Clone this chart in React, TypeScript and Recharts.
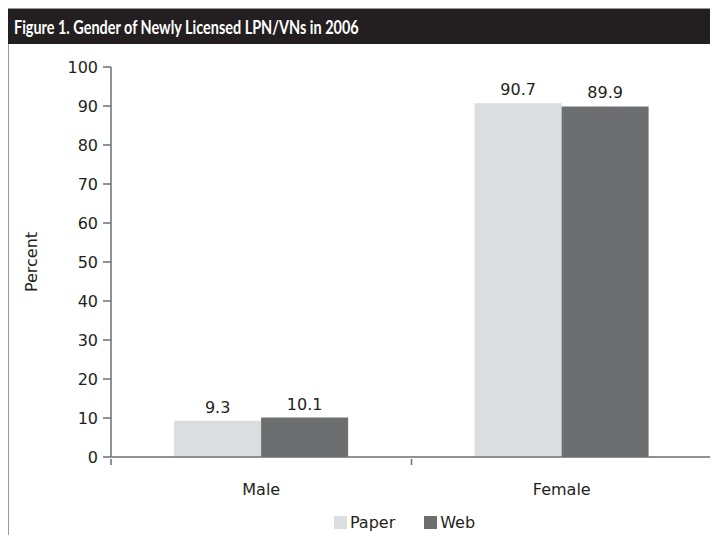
import React from "react";
import { BarChart, Bar, XAxis, YAxis, Label, LabelList, Legend } from "recharts";

const categories = ["Male", "Female"];
const paperValues = [9.3, 90.7];
const webValues = [10.1, 89.9];
const yTicks = [0, 10, 20, 30, 40, 50, 60, 70, 80, 90, 100];
const title = "Figure 1. Gender of Newly Licensed LPN/VNs in 2006";

const data = categories.map((c, i) => ({ name: c, Paper: paperValues[i], Web: webValues[i] }));

const FONT = "'DejaVu Sans', Lato, sans-serif";
const TITLE_FONT = "Lato, 'Open Sans', sans-serif";
const TEXT = "#231f20";
const AXIS = "#6d6e70";

const XTick = (props: any) => {
  const { x, y, payload } = props;
  const off = payload && typeof payload.offset === "number" ? payload.offset : 0;
  return (
    <g>
      {off > 0 && <line x1={x - off} x2={x - off} y1={y} y2={y + 6} stroke={AXIS} strokeWidth={1.5} />}
      {off > 0 && payload.index === categories.length - 1 && (
        <line x1={x + off} x2={x + off} y1={y} y2={y + 6} stroke={AXIS} strokeWidth={1.5} />
      )}
      <text x={x} y={y + 36} textAnchor="middle" fill={TEXT} fontSize={16} fontFamily={FONT}>
        {payload.value}
      </text>
    </g>
  );
};

const LegendContent = () => (
  <div style={{ display: "flex", justifyContent: "center", alignItems: "center", height: 24, fontFamily: FONT, fontSize: 16, color: TEXT }}>
    <span style={{ display: "inline-block", width: 13, height: 13, background: "#dcdddf", marginRight: 3 }} />
    <span style={{ marginRight: 29 }}>Paper</span>
    <span style={{ display: "inline-block", width: 13, height: 13, background: "#6d6e70", marginRight: 3 }} />
    <span>Web</span>
  </div>
);

export default function App() {
  return (
    <div style={{ position: "relative", width: 718, height: 535, marginLeft: -8, marginTop: -8, background: "#fff", overflow: "hidden" }}>
      <div style={{ position: "absolute", left: 7, top: 8, width: 711, height: 1, background: "#9a9a9a" }} />
      <div style={{ position: "absolute", left: 7, top: 8, width: 2, height: 527, background: "#9a9a9a" }} />
      <div
        style={{
          position: "absolute",
          left: 7,
          top: 9,
          width: 711,
          height: 35,
          background: "#231f20",
          boxSizing: "border-box",
        }}
      >
        <span
          style={{
            position: "absolute",
            left: 7,
            top: 0,
            color: "#fff",
            fontFamily: TITLE_FONT,
            fontWeight: 700,
            fontSize: 19,
            lineHeight: "35px",
            whiteSpace: "nowrap",
            transform: "scaleX(0.76)",
            transformOrigin: "left center",
            display: "inline-block",
          }}
        >
          {title}
        </span>
      </div>
      <div style={{ position: "absolute", left: 0, top: 0 }}>
        <BarChart
          width={718}
          height={535}
          data={data}
          margin={{ top: 67, right: 6, left: 51, bottom: 24 }}
          barCategoryGap="21%"
          barGap={0}
        >
          <XAxis
            dataKey="name"
            axisLine={{ stroke: AXIS, strokeWidth: 1.5 }}
            tickLine={false}
            tickSize={0}
            height={30}
            tick={<XTick />}
            interval={0}
          />
          <YAxis
            domain={[0, 100]}
            ticks={yTicks}
            interval={0}
            width={60}
            axisLine={{ stroke: AXIS, strokeWidth: 1.5 }}
            tickLine={{ stroke: AXIS, strokeWidth: 1.5 }}
            tickSize={8}
            tickMargin={5}
            tick={{ fill: TEXT, fontSize: 16, fontFamily: FONT }}
          >
            <Label value="Percent" angle={-90} position="insideLeft" offset={-20} style={{ fill: TEXT, fontSize: 16, fontFamily: FONT, textAnchor: "middle" }} />
          </YAxis>
          <Legend
            verticalAlign="bottom"
            content={<LegendContent />}
            wrapperStyle={{ left: 111, width: 587, bottom: 1 }}
          />
          <Bar dataKey="Paper" fill="#dcdddf" isAnimationActive={false}>
            <LabelList dataKey="Paper" position="top" offset={8} style={{ fill: TEXT, fontSize: 16, fontFamily: FONT }} />
          </Bar>
          <Bar dataKey="Web" fill="#6d6e70" isAnimationActive={false}>
            <LabelList dataKey="Web" position="top" offset={8} style={{ fill: TEXT, fontSize: 16, fontFamily: FONT }} />
          </Bar>
        </BarChart>
      </div>
    </div>
  );
}
